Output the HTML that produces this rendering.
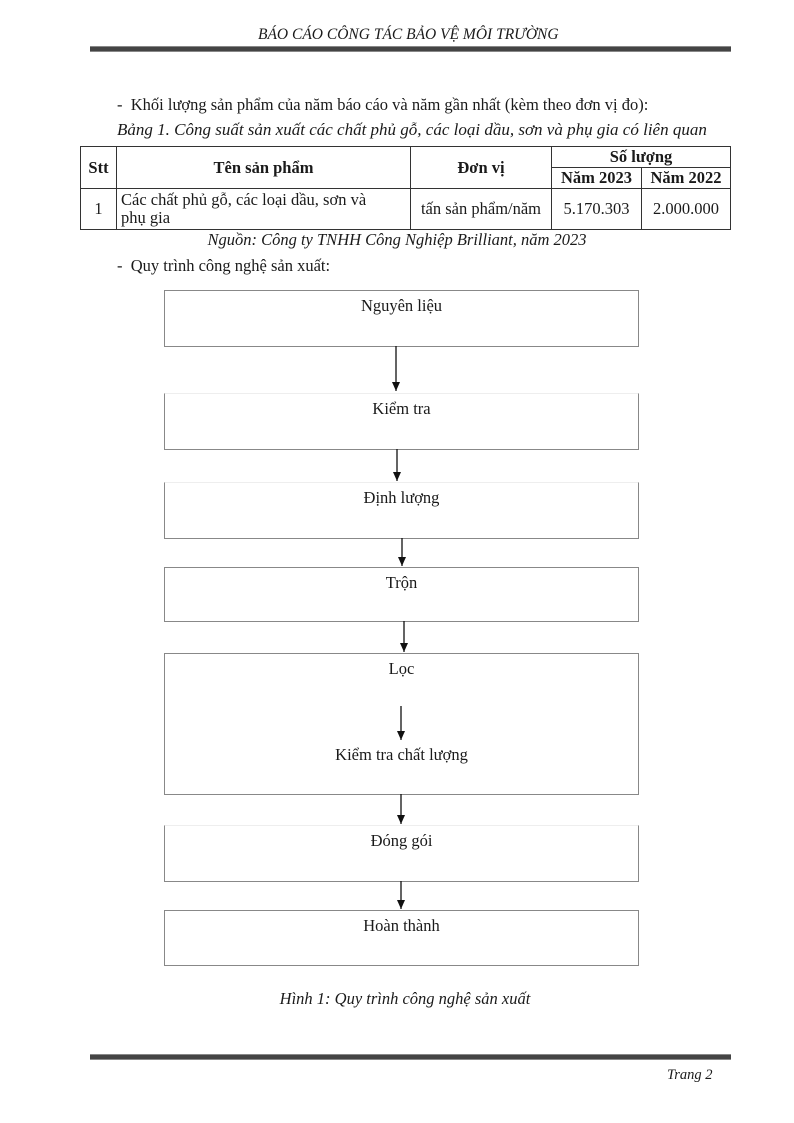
<!DOCTYPE html>
<html><head><meta charset="utf-8"><style>
body{margin:0;background:#fff;}
.pg{position:relative;width:794px;height:1123px;font-family:"Liberation Serif",serif;color:#1a1a1a;overflow:hidden}
.t{position:absolute;white-space:nowrap}
.i{font-style:italic}
.line{position:absolute;left:90px;width:641px;height:4px;background:#444;border-top:1px solid #888;border-bottom:1px solid #888}
table{position:absolute;left:80px;top:146px;border-collapse:collapse;font-size:16.5px}
td{border:1px solid #333;padding:0 4px;text-align:center}
.b{font-weight:bold}
.box{position:absolute;left:164px;width:473px;border:1px solid #888;text-align:center;font-size:16.5px;line-height:30px}
</style></head><body><div class="pg">
<div class="t i" style="left:258px;top:26px;font-size:15.5px">BÁO CÁO CÔNG TÁC BẢO VỆ MÔI TRƯỜNG</div>
<div class="line" style="top:46px"></div>
<div class="t" style="left:117px;top:95px;font-size:16.5px">-&nbsp; Khối lượng sản phẩm của năm báo cáo và năm gần nhất (kèm theo đơn vị đo):</div>
<div class="t i" style="left:117px;top:120px;font-size:17px">Bảng 1. Công suất sản xuất các chất phủ gỗ, các loại dầu, sơn và phụ gia có liên quan</div>
<table>
<tr style="height:20px"><td rowspan="2" class="b" style="width:27px">Stt</td><td rowspan="2" class="b" style="width:285px">Tên sản phẩm</td><td rowspan="2" class="b" style="width:132px">Đơn vị</td><td colspan="2" class="b">Số lượng</td></tr>
<tr style="height:21px"><td class="b" style="width:81px">Năm 2023</td><td class="b" style="width:80px">Năm 2022</td></tr>
<tr style="height:41px"><td>1</td><td style="text-align:left;line-height:18px">Các chất phủ gỗ, các loại dầu, sơn và<br>phụ gia</td><td>tấn sản phẩm/năm</td><td>5.170.303</td><td>2.000.000</td></tr>
</table>
<div class="t i" style="left:0;width:794px;text-align:center;top:230px;font-size:16.5px">Nguồn: Công ty TNHH Công Nghiệp Brilliant, năm 2023</div>
<div class="t" style="left:117px;top:256px;font-size:16.5px">-&nbsp; Quy trình công nghệ sản xuất:</div>
<div class="box" style="top:290px;height:55px">Nguyên liệu</div>
<div class="box" style="top:393px;height:55px;border-top-color:#eee">Kiểm tra</div>
<div class="box" style="top:482px;height:55px;border-top-color:#eee">Định lượng</div>
<div class="box" style="top:567px;height:53px">Trộn</div>
<div class="box" style="top:653px;height:140px;line-height:normal"><div style="position:absolute;top:5px;width:100%">Lọc</div><div style="position:absolute;top:91px;width:100%">Kiểm tra chất lượng</div></div>
<div class="box" style="top:825px;height:55px;border-top-color:#eee">Đóng gói</div>
<div class="box" style="top:910px;height:54px">Hoàn thành</div>
<svg width="794" height="1123" style="position:absolute;left:0;top:0">
<defs><marker id="a" markerUnits="userSpaceOnUse" markerWidth="10" markerHeight="10" refX="9" refY="4" orient="auto"><path d="M0,0 L9,4 L0,8 Z" fill="#111"/></marker></defs>
<g stroke="#111" stroke-width="1.3">
<line x1="396" y1="346" x2="396" y2="391" marker-end="url(#a)"/>
<line x1="397" y1="449" x2="397" y2="481" marker-end="url(#a)"/>
<line x1="402" y1="538" x2="402" y2="566" marker-end="url(#a)"/>
<line x1="404" y1="621" x2="404" y2="652" marker-end="url(#a)"/>
<line x1="401" y1="706" x2="401" y2="740" marker-end="url(#a)"/>
<line x1="401" y1="794" x2="401" y2="824" marker-end="url(#a)"/>
<line x1="401" y1="881" x2="401" y2="909" marker-end="url(#a)"/>
</g></svg>
<div class="t i" style="left:0;width:794px;text-align:center;top:989px;font-size:16.5px;padding-left:8px">Hình 1: Quy trình công nghệ sản xuất</div>
<div class="line" style="top:1054px"></div>
<div class="t i" style="left:667px;top:1067px;font-size:14.5px">Trang 2</div>
</div></body></html>
